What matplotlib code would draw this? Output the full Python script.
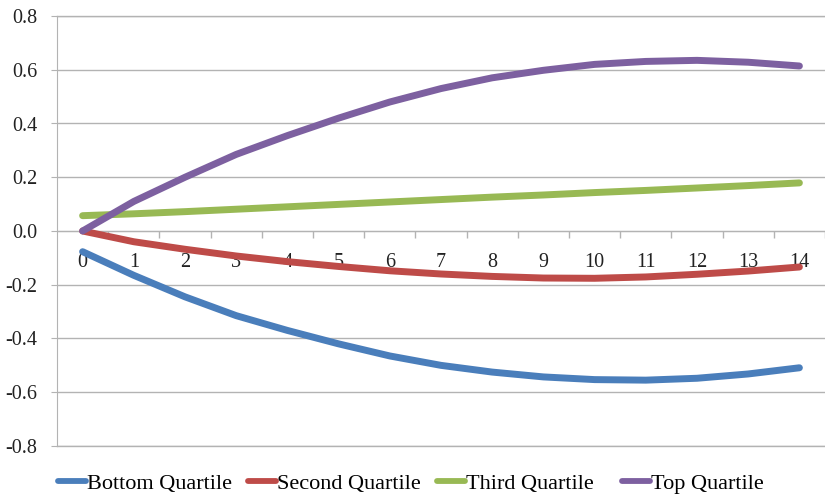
import matplotlib
matplotlib.use("Agg")
import matplotlib.pyplot as plt
from matplotlib.lines import Line2D
from matplotlib.legend import Legend
from matplotlib.ticker import FixedLocator, FixedFormatter

periods = list(range(15))
bottom_q = [-0.077, -0.165, -0.245, -0.315, -0.370, -0.420, -0.465, -0.500, -0.525, -0.543, -0.553, -0.555, -0.548, -0.532, -0.509]
second_q = [0.000, -0.040, -0.068, -0.093, -0.114, -0.132, -0.148, -0.160, -0.169, -0.175, -0.176, -0.171, -0.161, -0.149, -0.134]
third_q = [0.057, 0.064, 0.072, 0.081, 0.090, 0.099, 0.108, 0.117, 0.126, 0.134, 0.143, 0.151, 0.160, 0.169, 0.179]
top_q = [0.000, 0.110, 0.200, 0.285, 0.355, 0.420, 0.480, 0.530, 0.570, 0.598, 0.620, 0.631, 0.635, 0.628, 0.614]
series_names = ["Bottom Quartile", "Second Quartile", "Third Quartile", "Top Quartile"]
colors = ["#4a7ebb", "#be4b48", "#98b954", "#7d60a0"]
yticks = [-0.8, -0.6, -0.4, -0.2, 0.0, 0.2, 0.4, 0.6, 0.8]

plt.rcParams['font.family'] = ['Liberation Serif', 'DejaVu Serif']

fig = plt.figure(figsize=(8.25, 4.94), dpi=100)
ax = fig.add_axes([0.0691, 0.0972, 0.9309, 0.8704])

grid_c = "#b3b3b3"
lines = []
for name, vals, c in zip(series_names, [bottom_q, second_q, third_q, top_q], colors):
    ln, = ax.plot(periods, vals, color=c, lw=5.0, solid_capstyle='round', label=name, zorder=3)
    lines.append(ln)

ax.set_xlim(-0.5, 14.5)
ax.set_ylim(-0.8, 0.8)
ax.set_yticks(yticks)
ax.set_yticklabels([f"{v:.1f}" for v in yticks])
ax.yaxis.grid(True, color=grid_c, lw=1.0)
ax.axhline(-0.8, color=grid_c, lw=1.0, clip_on=False, zorder=1)
ax.axhline(0.8, color=grid_c, lw=1.0, clip_on=False, zorder=1)
ax.set_axisbelow(True)

for s in ['top', 'right']:
    ax.spines[s].set_visible(False)
ax.spines['left'].set_color(grid_c)
ax.spines['bottom'].set_position(('data', 0))
ax.spines['bottom'].set_color(grid_c)

ax.xaxis.set_major_locator(FixedLocator(periods))
ax.xaxis.set_major_formatter(FixedFormatter([str(p) for p in periods]))
ax.xaxis.set_minor_locator(FixedLocator([p + 0.5 for p in periods]))
ax.tick_params(axis='x', which='major', length=0, pad=15.5, labelsize=14.5, colors='#222222')
ax.tick_params(axis='x', which='minor', length=5, direction='out', color=grid_c, width=1)
ax.tick_params(axis='y', length=4.3, color=grid_c, labelsize=14.5, pad=10, labelcolor='#222222')

# legend entries in equal-width slots like the original
entry_px = [58, 248, 437, 622]
leg_y = -(484 - 446) / 430.0
for ln, name, px in zip(lines, series_names, entry_px):
    h = Line2D([], [], color=ln.get_color(), lw=4.2, solid_capstyle='round')
    leg = Legend(ax, [h], [name], loc='center left', bbox_to_anchor=((px - 57) / 768.0, leg_y),
                 frameon=False, fontsize=16, handlelength=1.25, handletextpad=0.05,
                 borderaxespad=0, borderpad=0)
    ax.add_artist(leg)

fig.savefig("out.png", dpi=100)
